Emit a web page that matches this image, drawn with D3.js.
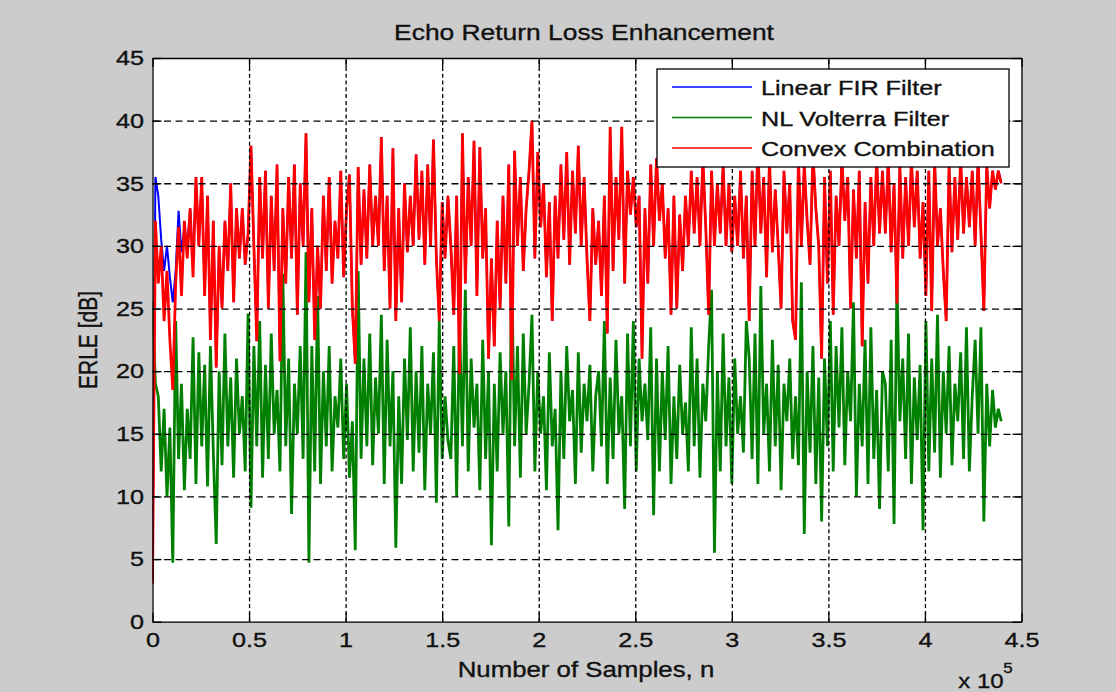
<!DOCTYPE html>
<html>
<head>
<meta charset="utf-8">
<script src="https://cdn.jsdelivr.net/npm/d3@7/dist/d3.min.js"></script>
<style>
  html, body { margin: 0; padding: 0; background: #cccccc; }
  svg { display: block; }
  text { font-family: "Liberation Sans", Arial, sans-serif; fill: #111; stroke: #111; stroke-width: 0.35; }
</style>
</head>
<body>
<svg id="chart" width="1116" height="692"></svg>
<script>
// ---- data -------------------------------------------------------------
// ERLE traces, one value every 1500 samples (n = 0 ... 439500)
const sampleStep = 1500;

const convexCombination = [
  3, 32, 27, 30, 24, 28, 22.5, 18.5, 27, 31.5, 26, 32, 29, 33, 27.5, 35.5, 30, 35.5, 26, 34,
  22.5, 32, 20.3, 30, 25, 32, 28, 35, 25.5, 33, 29, 33, 28.5, 31, 38, 30, 22.4, 35.5, 29, 36,
  25, 34, 28, 36.5, 20.8, 33, 27, 35.5, 29, 36.5, 24.5, 35,
  30, 39, 25.5, 33, 22.5, 30, 25, 34, 28, 35.5, 27, 32, 29, 36, 27.5, 33, 35.7, 25, 20.6, 36.3,
  28.5, 34.5, 29, 36.5, 30, 34, 30, 38.7, 28, 34, 25, 37.8, 24, 33, 25.5, 35, 29.5, 34, 30, 37.3,
  30.5, 36, 28.5, 36.5, 30, 38.5, 29, 24, 33.5, 29, 34,
  30, 24.5, 34, 19.8, 39, 27, 35.5, 30, 38.4, 26, 37.9, 29, 33, 21, 29, 22, 32, 25, 34, 27,
  36.5, 19.3, 37.6, 30, 35.5, 28, 33, 36, 40, 29, 37.5, 31.5, 35, 27.5, 33.5, 24, 34, 29, 36.5, 30.5,
  37.5, 28.5, 36, 31, 38, 30, 35.5, 29, 24, 33, 28.5,
  32, 26, 34, 23, 39.5, 28, 35.5, 30.5, 39.5, 27, 36, 32.5, 35.5, 31.5, 34, 21, 33, 27, 36.5, 30,
  37, 32, 35, 29, 33, 24.5, 34, 25, 32.5, 28, 34, 30, 36, 31, 35.5, 30, 37, 31.5, 24.5, 36,
  30, 35, 31, 36.5, 30, 35, 29.5, 34, 30, 36, 29, 34,
  24, 36, 30, 38, 31, 35.5, 27.5, 37, 29.5, 34.5, 30, 25, 36, 31, 35, 24, 22.5, 37, 30, 36.5,
  32, 28.5, 37.5, 33, 30, 21, 35.5, 27, 36, 24.5, 34, 30, 37, 32, 35.5, 25, 34.5, 29, 36, 22,
  33.5, 27, 35.5, 30, 37, 31, 36,
  31, 37, 29.5, 35, 25.4, 36.5, 29, 35.5, 30, 37, 31.5, 36, 29, 33.5, 26, 36, 24.8, 37, 30, 33,
  28, 24, 36.5, 29.5, 35.5, 30.5, 37, 31, 35.5, 31.5, 36, 30, 37, 31, 24.8, 36.5, 33, 36, 34.5, 36,
  35
];

const nlVolterra = [
  25.5, 19, 18, 12, 17, 10, 15.5, 4.7, 24, 13, 19, 10.5, 17, 13, 22.7, 11, 21.5, 14, 20.5, 10.8,
  22, 13.5, 6.2, 20, 12.5, 23, 14, 19.5, 11.5, 21, 15, 18, 12, 24.6, 9.1, 22, 14, 24, 11.5, 20.5,
  13, 23, 15, 18.5, 12, 27.8, 14, 21, 8.6, 19, 15, 22,
  13, 29.5, 4.7, 22, 12, 26, 11, 20, 14, 22, 12, 18, 15.5, 21, 13, 19, 11.5, 16, 5.7, 28,
  13, 21, 14, 23, 12.5, 19.5, 15, 24.5, 11, 22.5, 14, 20, 5.9, 18, 11, 21, 14.5, 23.5, 12, 20,
  13.5, 22, 10.5, 19, 15, 21.5, 9.5, 24, 13, 18, 14.5,
  13, 22, 10, 24, 14, 26.5, 12, 21, 15.5, 19, 10.5, 22.5, 13, 20, 6.1, 19, 12, 21.5, 15, 20,
  7.6, 28.2, 14, 22, 11.5, 23, 15, 19, 24.5, 12, 20, 15, 18, 10.5, 21.5, 14, 17, 7.3, 20, 13,
  22, 16, 18.5, 11, 21.5, 13.5, 19, 16, 20.5, 12, 18,
  20, 14, 24, 11, 19.5, 13, 22.5, 15, 18, 9, 23, 14, 24, 12, 21, 16, 19, 14.5, 23.5, 8.5,
  21, 12, 20, 14.5, 22, 11, 18, 13, 20.5, 15, 17.5, 12, 23.5, 14, 21, 11.5, 19, 16, 22, 26.5,
  5.5, 20, 12, 23, 14, 19.5, 11, 21, 15, 18, 13.5, 24,
  21, 13, 23, 11, 26.8, 15, 19, 12, 22.5, 14, 20.5, 10.5, 19, 16, 21, 13, 18, 12.5, 27.1, 7,
  20, 13.5, 22, 11, 19.5, 8, 21, 14, 24, 12, 22, 15.5, 23.5, 12.5, 20, 16, 25.5, 10, 19, 14,
  22.5, 11, 23.5, 13, 18.5, 9, 20,
  19, 12, 22.5, 7.8, 27.1, 16, 21, 13, 23, 11, 19.5, 14.5, 20.5, 7.3, 24, 12, 21, 13.5, 24.5, 11.5,
  20, 15, 22, 12.5, 19, 16, 21.5, 13, 23.5, 12, 18, 22.5, 15, 23.5, 8, 19, 14, 18.5, 15.5, 17,
  16
];

// The linear FIR trace differs from the convex combination only while the
// mixing parameter is still adapting; afterwards the two coincide.
const linearFirStart = [3.3, 35.5, 34, 30.5, 28, 30, 27.5, 25.5, 28, 32.8, 29.5, 31.5, 30, 33, 28.5, 35.5];
const linearFIR = linearFirStart.concat(convexCombination.slice(linearFirStart.length));

const seriesNames = ["Linear FIR Filter", "NL Volterra Filter", "Convex Combination"];
const seriesColors = ["#0000ff", "#008000", "#ff0000"];
const seriesWidths = [2.0, 2.8, 2.8];

const xTickValues = [0, 50000, 100000, 150000, 200000, 250000, 300000, 350000, 400000, 450000];
const xTickLabels = ["0", "0.5", "1", "1.5", "2", "2.5", "3", "3.5", "4", "4.5"];
const yTickValues = [0, 5, 10, 15, 20, 25, 30, 35, 40, 45];

// ---- layout -----------------------------------------------------------
const svg = d3.select("#chart");
const plotLeft = 152.5, plotRight = 1021.5, plotTop = 58, plotBottom = 621.7;
const stretch = 1.2; // horizontal glyph stretch used by all labels

const x = d3.scaleLinear().domain([0, 450000]).range([plotLeft, plotRight]);
const y = d3.scaleLinear().domain([0, 45]).range([plotBottom, plotTop]);

svg.append("rect").attr("width", 1116).attr("height", 692).attr("fill", "#cccccc");
svg.append("rect")
  .attr("x", plotLeft).attr("y", plotTop)
  .attr("width", plotRight - plotLeft).attr("height", plotBottom - plotTop)
  .attr("fill", "#ffffff");

// ---- traces -----------------------------------------------------------
svg.append("clipPath").attr("id", "plot-clip")
  .append("rect").attr("x", plotLeft).attr("y", plotTop)
  .attr("width", plotRight - plotLeft).attr("height", plotBottom - plotTop);

const line = d3.line()
  .x((d, i) => x(i * sampleStep))
  .y(d => y(d));

const traces = svg.append("g").attr("clip-path", "url(#plot-clip)");
[linearFIR, nlVolterra, convexCombination].forEach((vals, k) => {
  traces.append("path")
    .datum(vals)
    .attr("fill", "none")
    .attr("stroke", seriesColors[k])
    .attr("stroke-width", seriesWidths[k])
    .attr("stroke-linejoin", "bevel")
    .attr("d", line);
});

// ---- grid -------------------------------------------------------------
const grid = svg.append("g");
grid.append("g")
  .attr("transform", `translate(0,${plotBottom})`)
  .call(d3.axisBottom(x).tickValues(xTickValues.slice(1, -1)).tickSize(-(plotBottom - plotTop)).tickFormat(""))
  .call(g => g.select(".domain").remove())
  .call(g => g.selectAll("line").attr("stroke", "#000").attr("stroke-width", 1.3).attr("stroke-dasharray", "4,2.8"));
grid.append("g")
  .attr("transform", `translate(${plotLeft},0)`)
  .call(d3.axisLeft(y).tickValues(yTickValues.slice(1, -1)).tickSize(-(plotRight - plotLeft)).tickFormat(""))
  .call(g => g.select(".domain").remove())
  .call(g => g.selectAll("line").attr("stroke", "#000").attr("stroke-width", 1.3).attr("stroke-dasharray", "7,4.5"));

// ---- axes -------------------------------------------------------------
function styleAxis(g) {
  g.select(".domain").attr("stroke", "#000").attr("stroke-width", 1.3);
  g.selectAll(".tick line").attr("stroke", "#000").attr("stroke-width", 1.3);
  g.selectAll("text").attr("font-size", 21).attr("fill", "#111")
    .attr("font-family", "'Liberation Sans', Arial, sans-serif");
}

svg.append("g")
  .attr("transform", `translate(0,${plotBottom})`)
  .call(d3.axisBottom(x).tickValues(xTickValues).tickSizeInner(-9).tickSizeOuter(0).tickPadding(10)
    .tickFormat((d, i) => xTickLabels[i]))
  .call(styleAxis)
  .call(g => g.selectAll("text").attr("transform", `scale(${stretch},1)`));

svg.append("g")
  .attr("transform", `translate(0,${plotTop})`)
  .call(d3.axisTop(x).tickValues(xTickValues).tickSizeInner(-9).tickSizeOuter(0).tickFormat(""))
  .call(styleAxis);

svg.append("g")
  .attr("transform", `translate(${plotLeft},0)`)
  .call(d3.axisLeft(y).tickValues(yTickValues).tickSizeInner(-9).tickSizeOuter(0).tickPadding(8))
  .call(styleAxis)
  .call(g => g.selectAll("text").attr("x", -8.5 / stretch).attr("transform", `scale(${stretch},1)`));

svg.append("g")
  .attr("transform", `translate(${plotRight},0)`)
  .call(d3.axisRight(y).tickValues(yTickValues).tickSizeInner(-9).tickSizeOuter(0).tickFormat(""))
  .call(styleAxis);

// ---- labels -----------------------------------------------------------
function label(str, tx, ty, size, anchor, extra) {
  const g = svg.append("g").attr("transform", `translate(${tx},${ty}) scale(${stretch},1)${extra || ""}`);
  return g.append("text")
    .attr("text-anchor", anchor)
    .attr("font-size", size)
    .text(str);
}

label("Echo Return Loss Enhancement", 584, 39.5, 22, "middle");
label("Number of Samples, n", 586, 677, 21.5, "middle");
label("x 10", 981, 688, 20, "middle");
label("5", 1008, 673, 14, "middle");
label("ERLE [dB]", 97, 340, 21, "middle", " rotate(-90)");

// ---- legend -----------------------------------------------------------
const legend = svg.append("g");
legend.append("rect")
  .attr("x", 657).attr("y", 69).attr("width", 352).attr("height", 98)
  .attr("fill", "#ffffff").attr("stroke", "#000").attr("stroke-width", 1.3);
const legendRows = [87, 117.5, 148];
seriesNames.forEach((name, k) => {
  legend.append("line")
    .attr("x1", 672).attr("x2", 752)
    .attr("y1", legendRows[k]).attr("y2", legendRows[k])
    .attr("stroke", seriesColors[k]).attr("stroke-width", 1.4);
  const g = legend.append("g").attr("transform", `translate(761,${legendRows[k] + 8}) scale(${stretch},1)`);
  g.append("text").attr("font-size", 21).text(name);
});
</script>
</body>
</html>
